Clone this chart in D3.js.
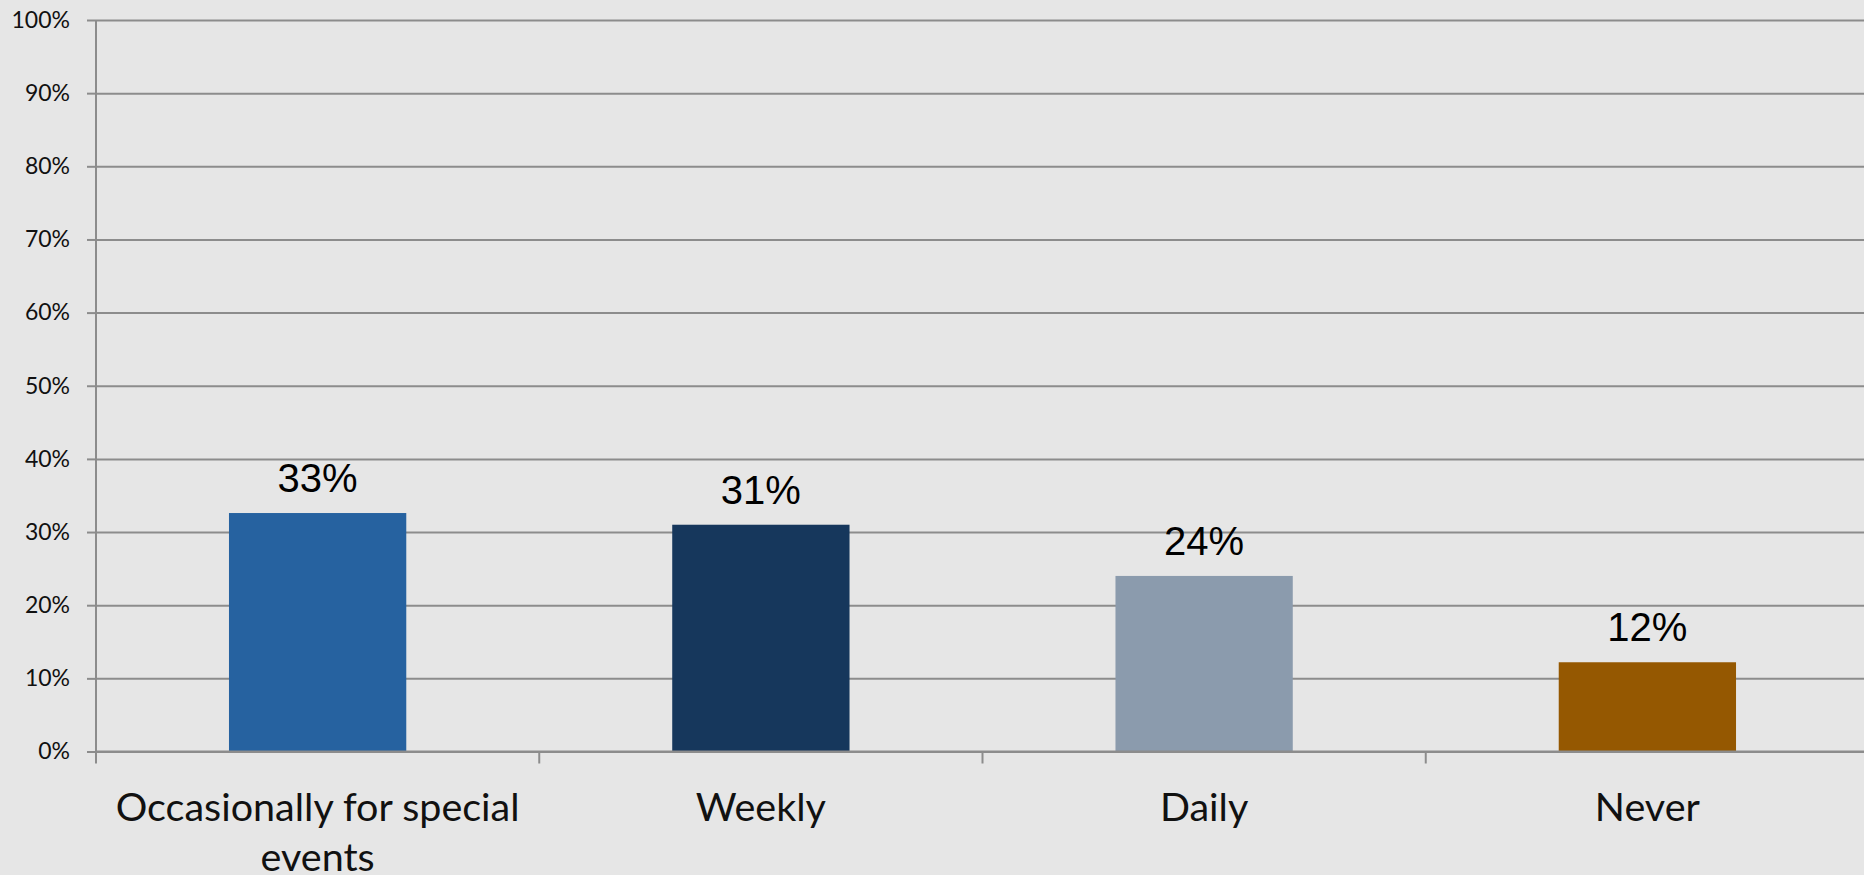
<!DOCTYPE html>
<html>
<head>
<meta charset="utf-8">
<script src="https://cdn.jsdelivr.net/npm/d3@7"></script>
<style>
  html, body { margin: 0; padding: 0; background: #e6e6e6; overflow: hidden; }
  svg { display: block; }
  .grid line { stroke: #8c8c8c; stroke-width: 2; }
  .grid path { display: none; }
  .axis path, .axis line { stroke: #8c8c8c; stroke-width: 2; }
  .y-axis text { font-family: Lato, sans-serif; font-size: 23px; fill: #111; }
  .x-axis text { font-family: Lato, sans-serif; font-size: 39.5px; fill: #111; }
  .value-label { font-family: "Liberation Sans", Arial, sans-serif; font-size: 40px; fill: #000; }
</style>
</head>
<body>
<div id="vis"></div>
<script>
var categories = ['Occasionally for special events', 'Weekly', 'Daily', 'Never'];
var values = [32.6, 31.0, 24.0, 12.2];
var barColors = ['#2662a0', '#16375c', '#8b9bad', '#955801'];
var yTicks = [0, 10, 20, 30, 40, 50, 60, 70, 80, 90, 100];

var width = 1864;
var height = 875;
var margin = { top: 20, right: -5, bottom: 123.5, left: 96 };

var svg = d3.select('#vis')
  .append('svg')
  .attr('width', width)
  .attr('height', height);

var x = d3.scaleBand()
  .domain(categories)
  .range([margin.left, width - margin.right])
  .paddingInner(0.6)
  .paddingOuter(0.3);

var y = d3.scaleLinear()
  .domain([0, 100])
  .range([height - margin.bottom, margin.top]);

// horizontal gridlines
svg.append('g')
  .attr('class', 'grid')
  .attr('transform', 'translate(' + margin.left + ',0)')
  .call(d3.axisLeft(y).tickValues(yTicks).tickSize(-(width - margin.left)).tickFormat(''));

// y axis
var yAxis = svg.append('g')
  .attr('class', 'axis y-axis')
  .attr('transform', 'translate(' + margin.left + ',0)')
  .call(d3.axisLeft(y).tickValues(yTicks).tickSize(9).tickPadding(17)
    .tickFormat(function (d) { return d + '%'; }));
yAxis.select('.domain').attr('d', 'M0,' + y(0) + 'V' + y(100));

// bars
svg.append('g')
  .selectAll('rect')
  .data(values)
  .enter()
  .append('rect')
  .attr('x', function (d, i) { return x(categories[i]); })
  .attr('y', function (d) { return y(d); })
  .attr('width', x.bandwidth())
  .attr('height', function (d) { return y(0) - y(d); })
  .attr('fill', function (d, i) { return barColors[i]; });

// value labels
svg.append('g')
  .selectAll('text')
  .data(values)
  .enter()
  .append('text')
  .attr('class', 'value-label')
  .attr('text-anchor', 'middle')
  .attr('x', function (d, i) { return x(categories[i]) + x.bandwidth() / 2; })
  .attr('y', function (d) { return y(d) - 21; })
  .text(function (d) { return Math.round(d) + '%'; });

// x axis with ticks between categories
var step = x.step();
var bounds = d3.range(categories.length + 1).map(function (i) { return margin.left + i * step; });
var xAxis = svg.append('g')
  .attr('class', 'axis x-axis')
  .attr('transform', 'translate(0,' + y(0) + ')');
xAxis.append('line')
  .attr('x1', margin.left).attr('x2', width)
  .attr('y1', 0).attr('y2', 0);
xAxis.selectAll('.tick-mark')
  .data(bounds)
  .enter()
  .append('line')
  .attr('class', 'tick-mark')
  .attr('x1', function (d) { return d; })
  .attr('x2', function (d) { return d; })
  .attr('y1', 0)
  .attr('y2', 12);

var labels = xAxis.selectAll('.cat-label')
  .data(categories)
  .enter()
  .append('text')
  .attr('class', 'cat-label')
  .attr('text-anchor', 'middle')
  .attr('x', function (d) { return x(d) + x.bandwidth() / 2; })
  .attr('y', 69);

labels.each(function (d) {
  var text = d3.select(this);
  var words = d.split(' ');
  var line = [];
  var tspan = text.append('tspan').attr('x', text.attr('x')).attr('dy', 0);
  words.forEach(function (w) {
    line.push(w);
    tspan.text(line.join(' '));
    if (tspan.node().getComputedTextLength() > step - 20 && line.length > 1) {
      line.pop();
      tspan.text(line.join(' '));
      line = [w];
      tspan = text.append('tspan').attr('x', text.attr('x')).attr('dy', 50).text(w);
    }
  });
});
</script>
</body>
</html>
